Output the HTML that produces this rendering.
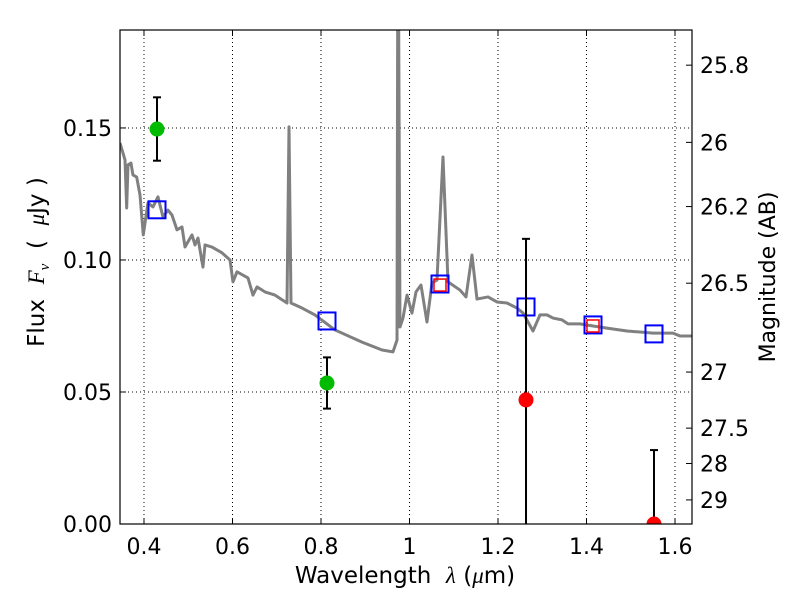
<!DOCTYPE html>
<html><head><meta charset="utf-8"><style>
body{margin:0;background:#fff}
svg{display:block;font-family:"DejaVu Sans","Liberation Sans",sans-serif}
.pre{white-space:pre}
</style></head><body>
<svg id="chart" width="800" height="600" viewBox="0 0 800 600">
<g id="grid"></g>
<g id="plot"></g>
<g id="axes"></g>
<text class="pre" x="405" y="583" font-size="23" text-anchor="middle">Wavelength  <tspan font-family="Liberation Serif" font-style="italic">λ</tspan> (<tspan font-family="Liberation Serif" font-style="italic">μ</tspan>m)</text>
<text class="pre" transform="translate(44,262) rotate(-90)" font-size="23" text-anchor="middle">Flux  <tspan font-family="Liberation Serif" font-style="italic">F<tspan font-size="15" dy="5">ν</tspan></tspan><tspan dy="-5">  (  </tspan><tspan font-family="Liberation Serif" font-style="italic">μ</tspan>Jy )</text>
<text transform="translate(775,277) rotate(-90)" font-size="22" text-anchor="middle">Magnitude (AB)</text>
</svg>
<script>
const xTicks=[0.4,0.6,0.8,1.0,1.2,1.4,1.6];
const xTickLabels=["0.4","0.6","0.8","1","1.2","1.4","1.6"];
const yTicks=[0,0.05,0.10,0.15];
const yTickLabels=["0.00","0.05","0.10","0.15"];
const magTicks=[25.8,26,26.2,26.5,27,27.5,28,29];
const magTickLabels=["25.8","26","26.2","26.5","27","27.5","28","29"];
const specLam=[0.3458,0.3571,0.3609,0.3638,0.3706,0.3751,0.3835,0.3910,0.3984,0.4090,0.4203,0.4316,0.4429,0.4542,0.4633,0.4746,0.4859,0.4927,0.5085,0.5153,0.5220,0.5333,0.5379,0.5537,0.5763,0.5944,0.6011,0.6102,0.6350,0.6463,0.6554,0.6734,0.6960,0.7232,0.7277,0.7322,0.7571,0.7864,0.8316,0.8927,0.9379,0.9627,0.9718,0.9740,0.9785,0.9853,0.9944,1.0056,1.0147,1.0260,1.0395,1.0508,1.0621,1.0757,1.0870,1.1141,1.1277,1.1412,1.1525,1.1774,1.1977,1.2203,1.2429,1.2565,1.2791,1.2949,1.3107,1.3243,1.3446,1.3582,1.3853,1.4147,1.4463,1.4915,1.5209,1.5503,1.5955,1.6113,1.6384];
const specFlux=[0.1443,0.1379,0.1197,0.1360,0.1367,0.1322,0.1314,0.1246,0.1095,0.1216,0.1201,0.1239,0.1163,0.1189,0.1170,0.1114,0.1125,0.1049,0.1095,0.1057,0.1083,0.0973,0.1057,0.1049,0.1027,0.1000,0.0917,0.0955,0.0932,0.0867,0.0898,0.0879,0.0867,0.0837,0.1504,0.0837,0.0818,0.0792,0.0735,0.0689,0.0659,0.0652,0.0697,0.25,0.0746,0.0780,0.0867,0.0799,0.0879,0.0905,0.0765,0.0913,0.0924,0.1390,0.0917,0.0886,0.0860,0.1019,0.0852,0.0860,0.0841,0.0837,0.0818,0.0799,0.0731,0.0792,0.0792,0.0780,0.0773,0.0758,0.0758,0.0750,0.0742,0.0731,0.0727,0.0723,0.0723,0.0712,0.0712];
const obsLam=[0.4294,0.8136,1.2633,1.5525];
const obsFlux=[0.1496,0.0534,0.047,0.0];
const obsErr=[0.012,0.0097,0.061,0.028];
const obsColor=["#00bb00","#00bb00","#ff0000","#ff0000"];
const modelLam=[0.4294,0.8136,1.0689,1.2633,1.4147,1.5525];
const modelFlux=[0.119,0.0769,0.0909,0.0822,0.0754,0.0720];
const redSqLam=[1.0689,1.4147];
const redSqFlux=[0.0905,0.0750];

const L=120,R=692,T=30,B=524;
const xMin=0.3458,xMax=1.6384,yMin=0,yMax=0.1871;
const X=v=>L+(v-xMin)/(xMax-xMin)*(R-L);
const Y=v=>B-(v-yMin)/(yMax-yMin)*(B-T);
const magToFlux=m=>Math.pow(10,-0.4*(m-23.9));
const NS="http://www.w3.org/2000/svg";
function mk(tag,parent,attrs){const e=document.createElementNS(NS,tag);for(const k in attrs)e.setAttribute(k,attrs[k]);parent.appendChild(e);return e;}
const grid=document.getElementById('grid'),plot=document.getElementById('plot'),axes=document.getElementById('axes');
const defs=mk('defs',document.getElementById('chart'),{});
const cp=mk('clipPath',defs,{id:'clip'});mk('rect',cp,{x:L,y:T,width:R-L,height:B-T});
plot.setAttribute('clip-path','url(#clip)');
xTicks.forEach((t,i)=>{
 const x=X(t);
 const g=mk('line',grid,{x1:x,x2:x,y1:T,y2:B,stroke:'#000','stroke-dasharray':'1,3','stroke-width':1});
 
 mk('line',axes,{x1:x,x2:x,y1:B,y2:B-6,stroke:'#000'});mk('line',axes,{x1:x,x2:x,y1:T,y2:T+6,stroke:'#000'});
 const tx=mk('text',axes,{x:x,y:B+30,'font-size':22,'text-anchor':'middle'});tx.textContent=xTickLabels[i];
 
});
yTicks.forEach((t,i)=>{
 const y=Y(t);
 const g=mk('line',grid,{x1:L,x2:R,y1:y,y2:y,stroke:'#000','stroke-dasharray':'1,3','stroke-width':1});
 
 mk('line',axes,{x1:L,x2:L+6,y1:y,y2:y,stroke:'#000'});
 const tx=mk('text',axes,{x:L-8,y:y+8,'font-size':22,'text-anchor':'end'});tx.textContent=yTickLabels[i];
 
});
magTicks.forEach((m,i)=>{
 const y=Y(magToFlux(m));
 mk('line',axes,{x1:R,x2:R-6,y1:y,y2:y,stroke:'#000'});
 const tx=mk('text',axes,{x:R+8,y:y+8,'font-size':22});tx.textContent=magTickLabels[i];
 
});
const fr=mk('rect',axes,{x:L,y:T,width:R-L,height:B-T,fill:'none',stroke:'#000','stroke-width':1.2});

const sp=mk('polyline',plot,{points:specLam.map((l,i)=>X(l)+','+Y(specFlux[i])).join(' '),fill:'none',stroke:'#808080','stroke-width':3,'stroke-linejoin':'round'});

modelLam.forEach((l,i)=>{
 const s=mk('rect',plot,{x:X(l)-8.5,y:Y(modelFlux[i])-8.5,width:17,height:17,fill:'none',stroke:'#0000ff','stroke-width':2});
 
});
redSqLam.forEach((l,i)=>{
 const s=mk('rect',plot,{x:X(l)-6,y:Y(redSqFlux[i])-6,width:12,height:12,fill:'none',stroke:'#ff0000','stroke-width':1.5});
 
});
obsLam.forEach((l,i)=>{
 const x=X(l),yt=Y(obsFlux[i]+obsErr[i]),yb=Y(obsFlux[i]-obsErr[i]);
 const e=mk('line',plot,{x1:x,x2:x,y1:yt,y2:yb,stroke:'#000','stroke-width':2});
 
 mk('line',plot,{x1:x-4,x2:x+4,y1:yt,y2:yt,stroke:'#000','stroke-width':2});
 mk('line',plot,{x1:x-4,x2:x+4,y1:yb,y2:yb,stroke:'#000','stroke-width':2});
 const c=mk('circle',plot,{cx:x,cy:Y(obsFlux[i]),r:7.5,fill:obsColor[i]});
 
});
</script>
</body></html>
